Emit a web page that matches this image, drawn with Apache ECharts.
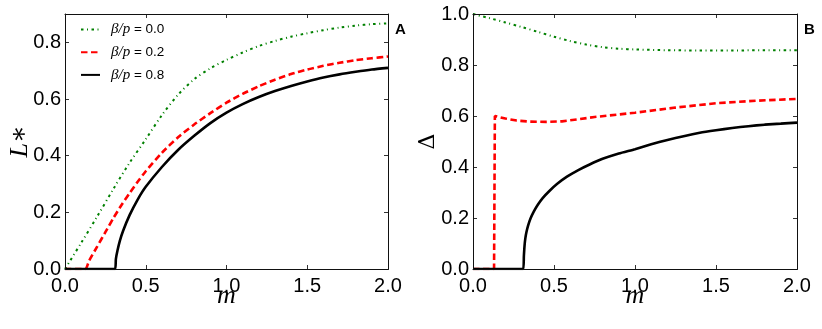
<!DOCTYPE html>
<html>
<head>
<meta charset="utf-8">
<script src="https://cdn.jsdelivr.net/npm/echarts@6/dist/echarts.min.js"></script>
<style>
html,body{margin:0;padding:0;background:#fff;}
#chart{width:822px;height:329px;}
</style>
</head>
<body>
<div id="chart"></div>
<script>
// ---- data ----
const seriesNames = ['β/p = 0.0', 'β/p = 0.2', 'β/p = 0.8'];
const xTicks = [0, 0.5, 1.0, 1.5, 2.0];

// Panel A: L* vs m
const mA0 = [0, 0.1, 0.2, 0.3, 0.4, 0.5, 0.6, 0.7, 0.8, 0.9, 1.0, 1.1, 1.2, 1.3, 1.4, 1.5, 1.6, 1.7, 1.8, 1.9, 2.0];
const LA0 = [0, 0.092, 0.186, 0.283, 0.375, 0.458, 0.543, 0.615, 0.67, 0.708, 0.738, 0.764, 0.787, 0.805, 0.82, 0.832, 0.843, 0.852, 0.859, 0.864, 0.867];

const mA2 = [0, 0.125, 0.15, 0.2, 0.25, 0.3, 0.35, 0.4, 0.45, 0.5, 0.6, 0.7, 0.8, 0.9, 1.0, 1.1, 1.2, 1.3, 1.4, 1.5, 1.6, 1.7, 1.8, 1.9, 2.0];
const LA2 = [0, 0, 0.03, 0.08, 0.13, 0.18, 0.226, 0.268, 0.308, 0.345, 0.41, 0.465, 0.51, 0.55, 0.587, 0.618, 0.645, 0.668, 0.688, 0.704, 0.717, 0.728, 0.737, 0.744, 0.75];

const mA8 = [0, 0.31, 0.315, 0.325, 0.34, 0.36, 0.4, 0.45, 0.5, 0.6, 0.7, 0.8, 0.9, 1.0, 1.1, 1.2, 1.3, 1.4, 1.5, 1.6, 1.7, 1.8, 1.9, 2.0];
const LA8 = [0, 0, 0.035, 0.065, 0.1, 0.135, 0.19, 0.245, 0.29, 0.36, 0.42, 0.47, 0.515, 0.552, 0.582, 0.607, 0.628, 0.646, 0.662, 0.676, 0.687, 0.696, 0.704, 0.71];

// Panel B: Delta vs m
const mB0 = [0, 0.1, 0.2, 0.3, 0.4, 0.5, 0.6, 0.7, 0.8, 0.9, 1.0, 1.2, 1.4, 1.6, 1.8, 2.0];
const DB0 = [1.0, 0.984, 0.967, 0.949, 0.93, 0.911, 0.894, 0.88, 0.87, 0.864, 0.861, 0.858, 0.857, 0.857, 0.858, 0.858];

const mB2 = [0, 0.13, 0.135, 0.145, 0.2, 0.27, 0.35, 0.45, 0.55, 0.65, 0.75, 0.9, 1.0, 1.25, 1.5, 1.75, 2.0];
const DB2 = [0, 0, 0.6, 0.6, 0.59, 0.582, 0.578, 0.577, 0.579, 0.587, 0.596, 0.606, 0.613, 0.633, 0.65, 0.66, 0.667];

const mB8 = [0, 0.31, 0.314, 0.318, 0.323, 0.33, 0.34, 0.355, 0.375, 0.4, 0.43, 0.47, 0.52, 0.58, 0.65, 0.72, 0.8, 0.9, 1.0, 1.1, 1.2, 1.3, 1.4, 1.5, 1.6, 1.7, 1.8, 1.9, 2.0];
const DB8 = [0, 0, 0.05, 0.09, 0.12, 0.145, 0.17, 0.198, 0.225, 0.252, 0.278, 0.305, 0.334, 0.362, 0.388, 0.41, 0.432, 0.453, 0.47, 0.489, 0.506, 0.521, 0.534, 0.544, 0.553, 0.56, 0.566, 0.57, 0.574];

// ---- build ----
const zip = (xs, ys) => xs.map((x, i) => [x, ys[i]]);
const SANS = 'Liberation Sans, Arial, sans-serif';
const SERIF = 'Liberation Serif, DejaVu Serif, serif';
const frameColor = '#111';

const styles = [
  {color: '#008000', width: 2, type: [2.5, 3.5, 1, 3.5]},
  {color: '#ff0000', width: 2.6, type: [6.5, 3.5]},
  {color: '#000000', width: 2.6, type: 'solid'}
];

function mkSeries(name, idx, data, axisIdx, smooth) {
  const s = styles[idx];
  return {
    name: name, type: 'line', xAxisIndex: axisIdx, yAxisIndex: axisIdx,
    data: data, showSymbol: false, symbol: 'none', smooth: smooth,
    lineStyle: {color: s.color, width: s.width, type: s.type, cap: 'butt'},
    itemStyle: {color: s.color},
    emphasis: {disabled: true}, animation: false, z: 2 + idx
  };
}

function xAx(grid, pos, show) {
  return {
    type: 'value', gridIndex: grid, position: pos, min: 0, max: 2, interval: 0.5,
    z: 10,
    axisLine: {show: true, onZero: false, lineStyle: {color: frameColor, width: 1}},
    axisTick: {show: true, inside: true, length: 4, lineStyle: {color: '#333', width: 1}},
    splitLine: {show: false},
    axisLabel: {show: show, margin: 7, color: '#000', fontSize: 20, fontFamily: SANS,
      formatter: v => v.toFixed(1)}
  };
}
function yAx(grid, pos, show, max) {
  return {
    type: 'value', gridIndex: grid, position: pos, min: 0, max: max, interval: 0.2,
    z: 10,
    axisLine: {show: true, onZero: false, lineStyle: {color: frameColor, width: 1}},
    axisTick: {show: true, inside: true, length: 4, lineStyle: {color: '#333', width: 1}},
    splitLine: {show: false},
    axisLabel: {show: show, margin: 4, color: '#000', fontSize: 20, fontFamily: SANS,
      showMaxLabel: max === 1.0, formatter: v => v.toFixed(1)}
  };
}

const gridA = {left: 65, top: 14, width: 323, height: 255};
const gridB = {left: 473, top: 14, width: 324, height: 255};

const option = {
  backgroundColor: '#fff',
  animation: false,
  grid: [
    Object.assign({containLabel: false, show: false}, gridA),
    Object.assign({containLabel: false, show: false}, gridB)
  ],
  xAxis: [xAx(0, 'bottom', true), xAx(1, 'bottom', true), xAx(0, 'top', false), xAx(1, 'top', false)],
  yAxis: [yAx(0, 'left', true, 0.9), yAx(1, 'left', true, 1.0), yAx(0, 'right', false, 0.9), yAx(1, 'right', false, 1.0)],
  legend: {
    data: seriesNames, left: 75, top: 17, orient: 'vertical',
    itemWidth: 19, itemHeight: 14, itemGap: 7.7,
    itemStyle: {color: 'rgba(0,0,0,0)', borderColor: 'rgba(0,0,0,0)', borderWidth: 0, opacity: 0},
    formatter: name => '{g|β/p}{t| = ' + name.split('= ')[1] + '}',
    textStyle: {
      padding: [0, 0, 0, 6], color: '#000',
      rich: {
        g: {fontFamily: SERIF, fontStyle: 'italic', fontSize: 15, color: '#000'},
        t: {fontFamily: SANS, fontSize: 13.5, color: '#000'}
      }
    }
  },
  graphic: [
    {type: 'rect', z: 100, silent: true, shape: {x: gridA.left + 0.5, y: gridA.top + 0.5, width: gridA.width, height: gridA.height},
      style: {fill: 'none', stroke: '#111', lineWidth: 1}},
    {type: 'rect', z: 100, silent: true, shape: {x: gridB.left + 0.5, y: gridB.top + 0.5, width: gridB.width, height: gridB.height},
      style: {fill: 'none', stroke: '#111', lineWidth: 1}},
    {type: 'text', left: 395, top: 22, style: {text: 'A', font: 'bold 15px ' + SANS, fill: '#000'}},
    {type: 'text', left: 804, top: 22, style: {text: 'B', font: 'bold 15px ' + SANS, fill: '#000'}},
    {type: 'text', x: gridA.left + gridA.width / 2, y: 296, silent: true,
      style: {text: 'm', font: 'italic 26px ' + SERIF, fill: '#000', align: 'center', verticalAlign: 'middle'}},
    {type: 'text', x: gridB.left + gridB.width / 2, y: 296, silent: true,
      style: {text: 'm', font: 'italic 26px ' + SERIF, fill: '#000', align: 'center', verticalAlign: 'middle'}},
    {type: 'text', x: 20, y: gridA.top + gridA.height / 2, rotation: Math.PI / 2, silent: true,
      style: {text: 'L∗', font: 'italic 26px ' + SERIF, fill: '#000', align: 'center', verticalAlign: 'middle'}},
    {type: 'text', x: 428, y: gridB.top + gridB.height / 2, rotation: Math.PI / 2, silent: true,
      style: {text: 'Δ', font: '22px DejaVu Serif, serif', fill: '#000', align: 'center', verticalAlign: 'middle'}}
  ],
  series: [
    mkSeries(seriesNames[0], 0, zip(mA0, LA0), 0, 0.3),
    mkSeries(seriesNames[1], 1, zip(mA2, LA2), 0, 0.2),
    mkSeries(seriesNames[2], 2, zip(mA8, LA8), 0, 0.2),
    mkSeries(seriesNames[0], 0, zip(mB0, DB0), 1, 0.3),
    mkSeries(seriesNames[1], 1, zip(mB2, DB2), 1, false),
    mkSeries(seriesNames[2], 2, zip(mB8, DB8), 1, 0.2)
  ]
};

const chart = echarts.init(document.getElementById('chart'), null, {renderer: 'canvas'});
chart.setOption(option);
</script>
</body>
</html>
